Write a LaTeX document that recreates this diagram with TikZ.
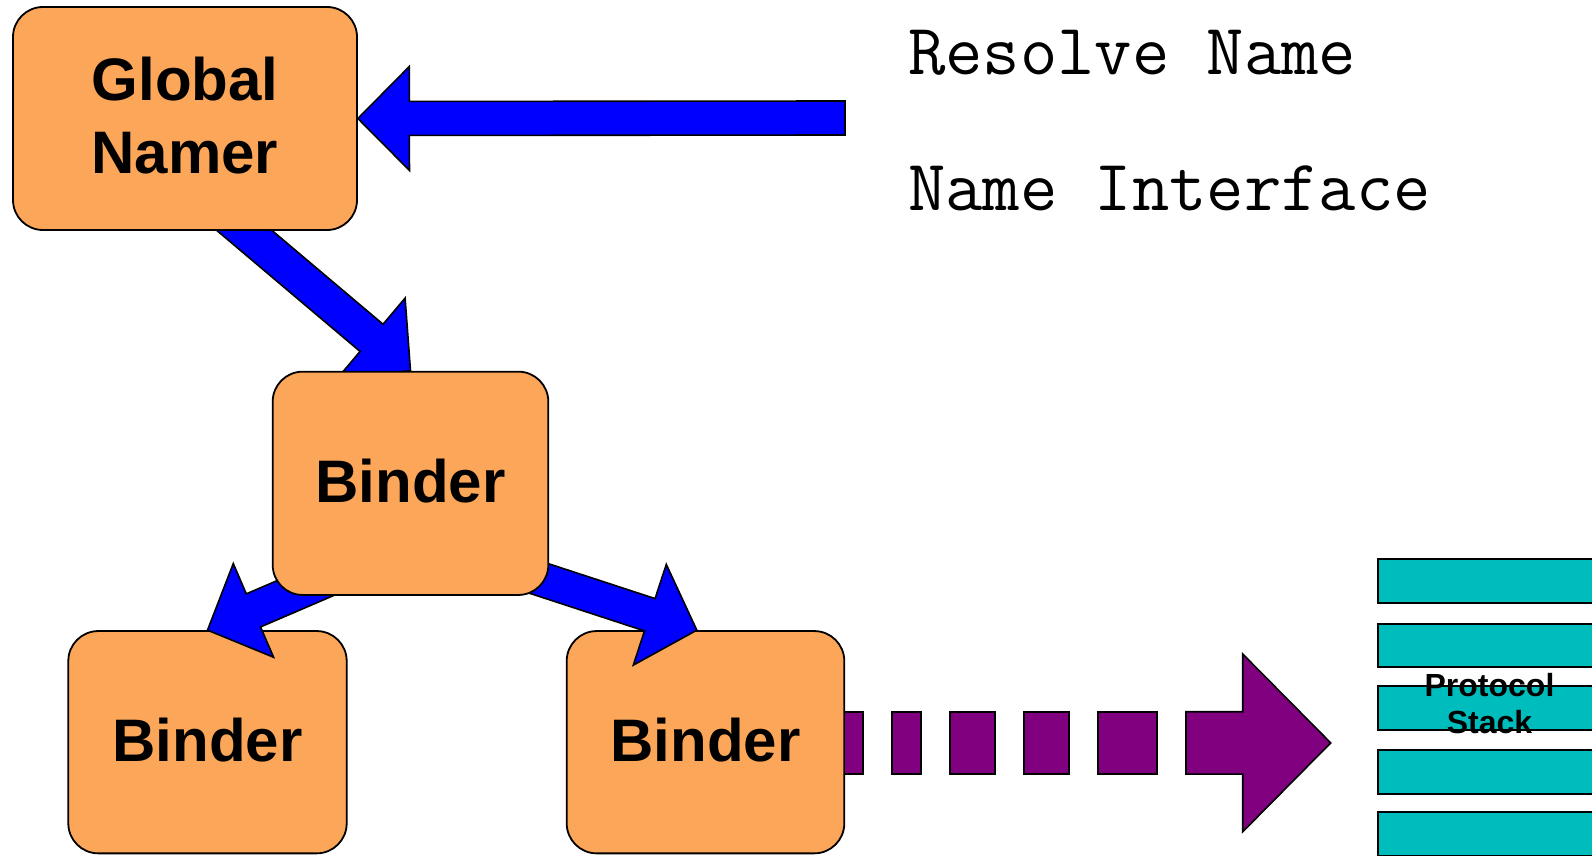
\documentclass[tikz,border=0pt]{standalone}
\usepackage{fontspec}
\setsansfont{Liberation Sans}
\usetikzlibrary{calc}

\definecolor{boxorange}{RGB}{251,166,89}
\definecolor{flowblue}{RGB}{0,0,255}
\definecolor{linkpurple}{RGB}{128,0,128}
\definecolor{stackteal}{RGB}{0,189,189}

% lower boxes sit under the arrows, upper boxes cover the arrow tails
\pgfdeclarelayer{lowboxes}
\pgfdeclarelayer{arrowlayer}
\pgfsetlayers{lowboxes,arrowlayer,main}

% block arrow: #1 style, #2 tail, #3 tip, #4 half shaft width,
% #5 half head width, #6 head length
\newcommand\blockarrow[6]{%
  \coordinate (ba-base) at ($(#3)!#6!(#2)$);
  \draw[#1] ($(#2)!#4!90:(#3)$) -- ($(ba-base)!#4!90:(#3)$)
    -- ($(ba-base)!#5!90:(#3)$) -- (#3)
    -- ($(ba-base)!#5!-90:(#3)$) -- ($(ba-base)!#4!-90:(#3)$)
    -- ($(#2)!#4!-90:(#3)$) -- cycle;
}

\begin{document}
\begin{tikzpicture}[x=1pt,y=-1pt,
  box/.style={draw=black, line width=1.8pt, fill=boxorange,
    rounded corners=30pt, inner sep=0pt, align=center,
    font={\sffamily\bfseries\fontsize{60}{73}\selectfont}},
  bluearrow/.style={draw=black, line width=1.6pt, fill=flowblue, line join=miter},
  purplearrow/.style={draw=black, line width=1.6pt, fill=linkpurple, line join=miter},
  dashblock/.style={draw=black, line width=1.6pt, fill=linkpurple},
  stackbar/.style={draw=black, line width=1.8pt, fill=stackteal},
  monolabel/.style={anchor=base west, inner sep=0pt,
    font={\ttfamily\fontsize{72.5}{86}\selectfont}},
]
\useasboundingbox (0,0) rectangle (1592,856);

% boxes below the arrows
\begin{pgfonlayer}{lowboxes}
  \node[box, minimum width=278.4pt, minimum height=222.3pt, text depth=4pt]
    (lb) at (207.5,742.2) {Binder};
  \node[box, minimum width=277.6pt, minimum height=222.3pt, text depth=4pt]
    (rb) at (705.5,742.2) {Binder};
\end{pgfonlayer}

% boxes above the arrows
\node[box, minimum width=344pt, minimum height=223pt, text depth=7pt]
  (gn) at (185,118.5) {Global\\Namer};
\node[box, minimum width=275.6pt, minimum height=223.3pt, text depth=6pt]
  (mid) at (410.5,483.3) {Binder};

% arrow ends
\coordinate (rtail) at (845,118);
\coordinate (gtail) at (219,209);
\coordinate (ltail) at (373,559);
\coordinate (rtailb) at (507,568);
\coordinate (rtip) at ($(rb.north west)!0.469!(rb.north east)$);
\coordinate (ptail) at (1186,742.9);
\coordinate (ptip) at (1330.7,742.9);

\begin{pgfonlayer}{arrowlayer}
  \blockarrow{bluearrow}{rtail}{gn.east}{17pt}{52pt}{51.5pt}
  \blockarrow{bluearrow}{gtail}{mid.north}{17.8pt}{52pt}{51pt}
  \blockarrow{bluearrow}{ltail}{lb.north}{18pt}{51pt}{50pt}
  \blockarrow{bluearrow}{rtailb}{rtip}{17pt}{53pt}{49.5pt}

  % dashed link to the protocol stack
  \foreach \a/\b in {844.3/862.7, 891.7/920.7, 950/994.7, 1024/1068.7, 1098/1156.7}
    \draw[dashblock] (\a,711.7) rectangle (\b,774);
  \blockarrow{purplearrow}{ptail}{ptip}{31.2pt}{88.9pt}{88pt}
\end{pgfonlayer}

% protocol stack layers
\foreach \t/\b in {559.3/603.3, 624/667.3, 685.7/730, 750/794, 812.3/855.7}
  \draw[stackbar] (1378,\t) rectangle (1620,\b);
\node[inner sep=0pt, align=center,
  font={\sffamily\bfseries\fontsize{32}{36.7}\selectfont}]
  (stack) at (1489.5,703.4) {Protocol\\Stack};

% interface labels
\node[monolabel] (resolve) at (908,75) {Resolve Name};
\node[monolabel] (iface) at (908,210) {Name Interface};
\end{tikzpicture}
\end{document}
